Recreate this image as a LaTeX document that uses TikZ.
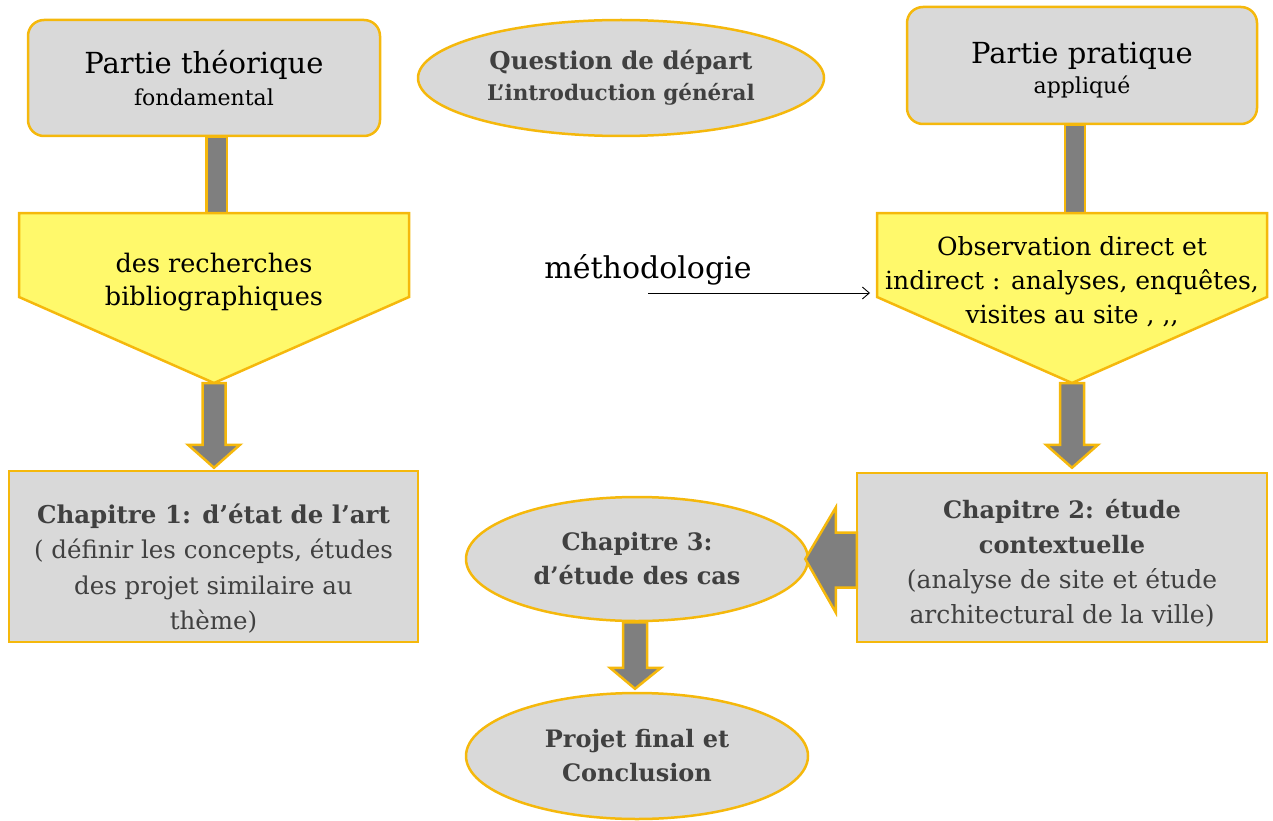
\documentclass[tikz,border=0pt]{standalone}
\usepackage{fontspec}
\setmainfont{DejaVu Serif}
\usetikzlibrary{arrows.meta,calc,shapes.geometric}
\definecolor{gold}{HTML}{F5B80C}
\definecolor{boxgray}{HTML}{D9D9D9}
\definecolor{pentyellow}{HTML}{FFF96B}
\definecolor{arrgray}{HTML}{7F7F7F}
\definecolor{txtgray}{HTML}{404040}
\tikzset{
  rbox/.style={draw=gold, line width=2.5pt, fill=boxgray, rounded corners=16pt, align=center, inner sep=0pt},
  sbox/.style={draw=gold, line width=2.5pt, fill=boxgray, align=center, inner sep=0pt, text=txtgray},
  ell/.style={ellipse, draw=gold, line width=2.5pt, fill=boxgray, align=center, inner sep=0pt, text=txtgray},
  pent/.style={draw=gold, line width=2.5pt, fill=pentyellow, line join=miter},
  ptext/.style={align=center, inner sep=0pt},
  fat/.style={draw=gold, line width=2.5pt, fill=arrgray, line join=miter},
  thinarrow/.style={draw=black, line width=0.9pt, -{Straight Barb[length=7pt,width=12pt]}},
}
\begin{document}
\begin{tikzpicture}[x=1pt,y=-1pt]
\useasboundingbox (0,0) rectangle (1273,821);

% pentagon and helper coordinates
\coordinate (ltip) at (214,383);
\coordinate (rtip) at (1072,383);
\coordinate (ltop) at (214,213);
\coordinate (rtop) at (1072,213);
\coordinate (rwest) at (870,293);

% top row
\node[rbox, minimum width=352pt, minimum height=116pt, font=\fontsize{29}{32}\selectfont] (pth) at (204,78)
  {Partie théorique\\{\fontsize{22}{32}\selectfont fondamental}};
\node[rbox, minimum width=350pt, minimum height=117pt, font=\fontsize{29}{30}\selectfont] (ppr) at (1082,65.5)
  {\rule{0pt}{31pt}Partie pratique\\{\fontsize{22}{30}\selectfont appliqué}};
\node[ell, minimum width=406pt, minimum height=116pt, font=\bfseries\fontsize{24.5}{31}\selectfont] (qd) at (621,78)
  {Question de départ\\{\fontsize{21.5}{31}\selectfont L’introduction général}};

% bars from top boxes to pentagons
\draw[fat] ($(pth.south)+(2.5,0)$) rectangle ($(ltop)+(13,0)$);
\draw[fat] ($(ppr.south)+(-17,0)$) rectangle ($(rtop)+(13,0)$);

\draw[pent] (19,213) -- (409,213) -- (409,297) -- (ltip) -- (19,297) -- cycle;
\draw[pent] (877,213) -- (1267,213) -- (1267,297) -- (rtip) -- (877,297) -- cycle;
\node[ptext, font=\fontsize{25.5}{33}\selectfont] (lpent) at (214,282) {des recherches\\bibliographiques};
\node[ptext, font=\fontsize{25}{34}\selectfont] (rpent) at (1072,282) {Observation direct et\\indirect : analyses, enquêtes,\\visites au site , ,{},};

% chapter boxes
\node[sbox, minimum width=409pt, minimum height=171pt, font=\fontsize{24.5}{35.5}\selectfont] (ch1) at (213.5,556.5)
  {\rule{0pt}{44pt}\textbf{Chapitre 1: d’état de l’art}\\( définir les concepts, études\\des projet similaire au\\thème)};
\node[sbox, minimum width=410pt, minimum height=169pt, font=\fontsize{25}{35}\selectfont] (ch2) at (1062,557.5)
  {\rule{0pt}{30pt}{\bfseries\fontsize{24}{35}\selectfont Chapitre 2: étude}\\{\bfseries\fontsize{24}{35}\selectfont contextuelle}\\(analyse de site et étude\\architectural de la ville)};

% down arrows
\draw[fat] ($(ltip)+(-11.5,0)$) -- ($(ltip)+(11.5,0)$) -- ($(ltip |- ch1.north)+(11.5,-25)$)
  -- ($(ltip |- ch1.north)+(26,-25)$) -- ($(ltip |- ch1.north)+(0,-2)$) -- ($(ltip |- ch1.north)+(-26,-25)$)
  -- ($(ltip |- ch1.north)+(-11.5,-25)$) -- cycle;
\draw[fat] ($(rtip)+(-12,0)$) -- ($(rtip)+(12,0)$) -- ($(rtip |- ch2.north)+(12,-27)$)
  -- ($(rtip |- ch2.north)+(26,-27)$) -- ($(rtip |- ch2.north)+(0,-4)$) -- ($(rtip |- ch2.north)+(-26,-27)$)
  -- ($(rtip |- ch2.north)+(-12,-27)$) -- cycle;

% ellipses bottom
\node[ell, minimum width=342pt, minimum height=124pt, font=\bfseries\fontsize{24}{34}\selectfont] (ch3) at (637,559)
  {Chapitre 3:\\d’étude des cas};
\node[ell, minimum width=342pt, minimum height=126pt, font=\bfseries\fontsize{24}{34}\selectfont] (pf) at (637,756)
  {Projet final et\\Conclusion};

% left arrow ch2 -> ch3
\draw[fat] ($(ch2.west)+(1,-25)$) -- ($(ch2.west)+(-20,-25)$) -- ($(ch2.west)+(-20,-50)$)
  -- ($(ch3.east)+(-4,0)$) -- ($(ch2.west)+(-20,55)$) -- ($(ch2.west)+(-20,30)$) -- ($(ch2.west)+(1,30)$) -- cycle;

% down arrow ch3 -> pf
\draw[fat] ($(ch3.south)+(-14,0)$) -- ($(ch3.south)+(10,0)$) -- ($(pf.north)+(10,-24)$)
  -- ($(pf.north)+(24,-24)$) -- ($(pf.north)+(-2,-3)$) -- ($(pf.north)+(-27,-24)$)
  -- ($(pf.north)+(-14,-24)$) -- cycle;

% methodologie
\node[inner sep=0pt, font=\fontsize{30}{36}\selectfont] (meth) at (648,270) {méthodologie};
\coordinate (mstart) at (648,293);
\draw[thinarrow] (mstart) -- (rwest);
\end{tikzpicture}
\end{document}
